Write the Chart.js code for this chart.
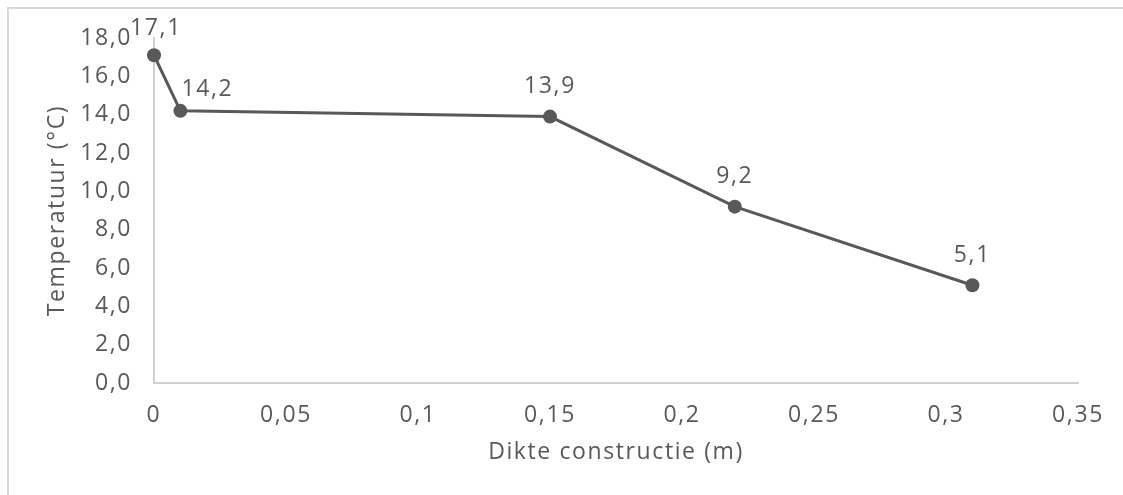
<!DOCTYPE html>
<html>
<head>
<meta charset="utf-8">
<script src="https://cdn.jsdelivr.net/npm/chart.js@4.4.1/dist/chart.umd.min.js"></script>
<style>
  html, body { margin: 0; padding: 0; background: #ffffff; }
  #wrap { position: relative; width: 1123px; height: 495px; overflow: hidden; }
  #frame { position: absolute; left: 7px; top: 7px; width: 1300px; height: 700px;
           border: 2px solid #d9d9d9; box-sizing: border-box; }
  #chart { position: absolute; left: 0; top: 0; }
</style>
</head>
<body>
<div id="wrap">
  <div id="frame"></div>
  <canvas id="chart" width="1123" height="495"></canvas>
</div>
<script>
// Temperature profile through the construction
const thickness = [0, 0.01, 0.15, 0.22, 0.31];      // m
const temperature = [17.1, 14.2, 13.9, 9.2, 5.1];   // °C

const xTitle = 'Dikte constructie (m)';
const yTitle = 'Temperatuur (°C)';

const TEXT = '#595959';
const AXIS = '#d0d0d0';
const FONT = { family: '"Open Sans", sans-serif', size: 23 };
const SPACING = '1.6px';

const comma = s => s.replace('.', ',');

// wide letter spacing for all text on the canvas
const spacingPlugin = {
  id: 'spacing',
  beforeLayout(chart) { chart.ctx.letterSpacing = SPACING; },
  beforeDraw(chart) { chart.ctx.letterSpacing = SPACING; }
};

// value labels above each point
const valueLabels = {
  id: 'valueLabels',
  afterDatasetsDraw(chart, args, opts) {
    const ctx = chart.ctx;
    const meta = chart.getDatasetMeta(0);
    ctx.save();
    ctx.letterSpacing = SPACING;
    ctx.font = `${FONT.size}px ${FONT.family}`;
    ctx.fillStyle = TEXT;
    ctx.textAlign = 'center';
    ctx.textBaseline = 'middle';
    meta.data.forEach((pt, i) => {
      const off = (opts.offsets && opts.offsets[i]) || [0, 0];
      const txt = comma(temperature[i].toFixed(1));
      ctx.fillText(txt, pt.x + off[0], pt.y - 30 + off[1]);
    });
    ctx.restore();
  }
};

new Chart(document.getElementById('chart'), {
  type: 'line',
  data: {
    datasets: [{
      data: thickness.map((x, i) => ({ x, y: temperature[i] })),
      borderColor: TEXT,
      borderWidth: 3,
      backgroundColor: TEXT,
      pointRadius: 7,
      pointBorderWidth: 0,
      pointBackgroundColor: TEXT,
      tension: 0,
      clip: false
    }]
  },
  plugins: [spacingPlugin, valueLabels],
  options: {
    responsive: false,
    animation: false,
    layout: { padding: { left: 40, top: 38, right: 45, bottom: 25 } },
    plugins: {
      legend: { display: false },
      tooltip: { enabled: false },
      valueLabels: { offsets: [[2, 3], [27, 9], [0, 0], [0, 0], [0, 0]] }
    },
    scales: {
      x: {
        type: 'linear',
        min: 0,
        max: 0.35,
        grid: { display: false, drawTicks: false },
        border: { display: true, color: AXIS, width: 2 },
        ticks: {
          stepSize: 0.05,
          color: TEXT,
          font: FONT,
          padding: 19,
          maxRotation: 0,
          callback: v => comma(String(Math.round(v * 100) / 100))
        },
        title: { display: true, text: xTitle, color: TEXT, font: FONT },
        afterFit(scale) { scale.height = 495 - 25 - 383; }
      },
      y: {
        min: 0,
        max: 18,
        grid: { display: false, drawTicks: false },
        border: { display: true, color: AXIS, width: 2 },
        ticks: {
          stepSize: 2,
          color: TEXT,
          font: FONT,
          padding: 22,
          callback: v => comma(v.toFixed(1))
        },
        title: { display: true, text: yTitle, color: TEXT, font: FONT },
        afterFit(scale) { scale.width = 154 - 40; }
      }
    }
  }
});
</script>
</body>
</html>
